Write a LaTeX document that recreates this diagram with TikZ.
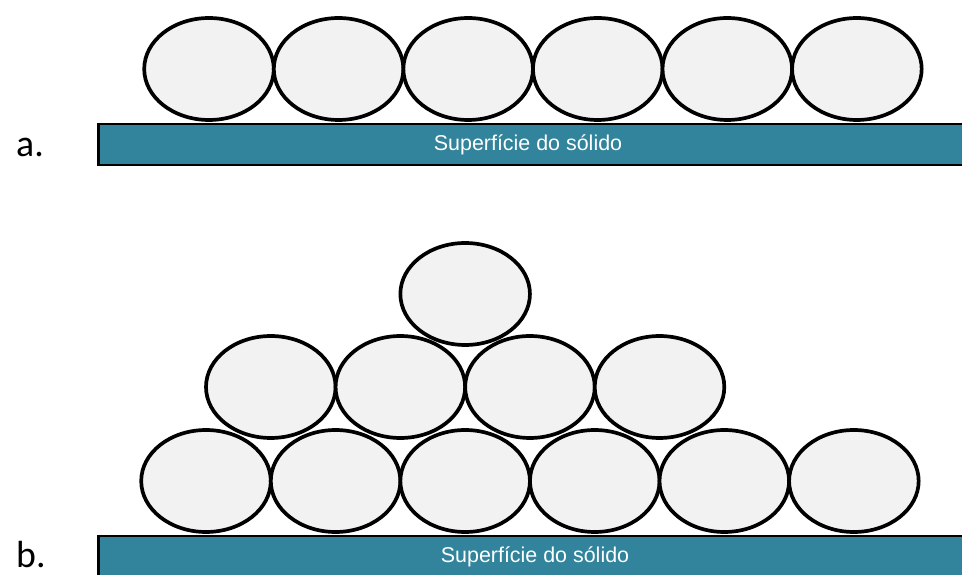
\documentclass[tikz,border=0pt]{standalone}
\usepackage{fontspec}
\setmainfont{Liberation Sans}
\newfontfamily\labelfont{Carlito}
\usepackage{xcolor}
\usetikzlibrary{shapes.geometric, positioning, calc}
\definecolor{solidcolor}{HTML}{31849B}
\definecolor{ballfill}{HTML}{F2F2F2}

\begin{document}
\begin{tikzpicture}[
    x=0.02cm, y=0.02cm,
    node distance=0pt,
    ball/.style={ellipse, draw=black, fill=ballfill, line width=2.1pt,
                 minimum width=2.592cm, minimum height=2.04cm,
                 inner sep=0pt, outer sep=0pt},
    surface/.style={rectangle, draw=black, fill=solidcolor, line width=1.4pt,
                    minimum width=17.5cm, minimum height=0.81cm,
                    inner sep=0pt, outer sep=0pt, anchor=west},
    surftext/.style={text=white, font=\fontsize{12.2}{14}\selectfont},
    tag/.style={anchor=base west, font=\labelfont\fontsize{21.5}{24}\selectfont}
]
\useasboundingbox (0,0) rectangle (962,574);

% a. single layer
\node[surface] (bara) at (98.5,429.5) {};
\node[surftext] (texta) at (528,429) {Superfície do sólido};
\node[tag] (taga) at (10,417) {a.};

\node[ball] (a1) at (209,505) {};
\node[ball, right=of a1] (a2) {};
\node[ball, right=of a2] (a3) {};
\node[ball, right=of a3] (a4) {};
\node[ball, right=of a4] (a5) {};
\node[ball, right=of a5] (a6) {};

% b. multilayer
\node[surface] (barb) at (98.5,17.5) {};
\node[surftext] (textb) at (535,17) {Superfície do sólido};
\node[tag] (tagb) at (10,7) {b.};

\node[ball] (b1) at (206,93) {};
\node[ball, right=of b1] (b2) {};
\node[ball, right=of b2] (b3) {};
\node[ball, right=of b3] (b4) {};
\node[ball, right=of b4] (b5) {};
\node[ball, right=of b5] (b6) {};

\node[ball] (m1) at ($(b1)!0.5!(b2)+(0,94)$) {};
\node[ball, right=of m1] (m2) {};
\node[ball, right=of m2] (m3) {};
\node[ball, right=of m3] (m4) {};

\node[ball] (t1) at ($(m2)!0.5!(m3)+(0,93)$) {};

\end{tikzpicture}
\end{document}
